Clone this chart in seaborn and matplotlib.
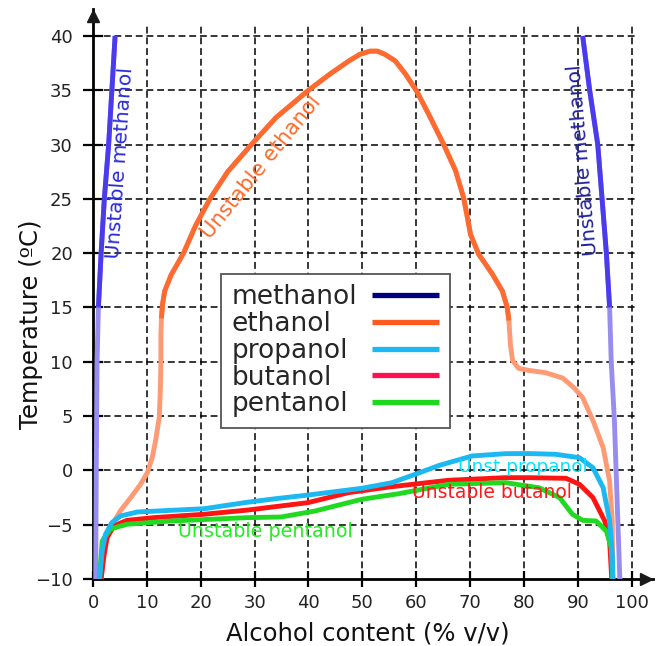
import matplotlib
import matplotlib.pyplot as plt
import seaborn as sns
from matplotlib.lines import Line2D

matplotlib.use("Agg")

# ── Data ─────────────────────────────────────────────────────────────────────

X_TICKS = [0, 10, 20, 30, 40, 50, 60, 70, 80, 90, 100]
Y_TICKS = [-10, -5, 0, 5, 10, 15, 20, 25, 30, 35, 40]

# methanol: two separate boundaries (low and high alcohol content)
meth_left_x = [0.5, 0.55, 0.6, 0.75, 1.0, 1.5, 2.1, 2.9, 3.5, 4.1]
meth_left_y = [-10, -5, 0, 10, 15, 20, 25, 30, 35, 40]
meth_right_x = [97.8, 97.1, 96.8, 96.2, 95.9, 95.3, 94.5, 93.7, 92.2, 90.9]
meth_right_y = [-10, 0, 4.5, 10, 15, 20, 25, 30, 35, 40]

eth_x = [1.5, 2.0, 2.8, 3.9, 5.1, 7.0, 8.8, 10.1, 11.0, 11.6, 12.3, 12.5, 12.6,
         12.6, 12.7, 12.9, 13.3, 14.5, 16.8, 19.0, 21.7, 25.0, 29.4, 34.0, 40.0,
         44.0, 47.5, 49.5, 51.4, 52.8, 54.2, 56.1, 58.0, 60.1, 62.3, 65.1, 67.3,
         68.8, 70.1, 71.6, 74.1, 76.0, 76.9, 77.2, 77.5, 77.9, 79.0, 81.0, 84.0,
         87.2, 89.3, 90.9, 92.8, 94.7, 95.9, 96.4, 96.5]
eth_y = [-10, -7.5, -5.8, -4.7, -3.7, -2.5, -1.3, -0.2, 1.2, 2.7, 4.9, 7.5, 10,
         12.5, 14.0, 15.3, 16.5, 18, 20, 22.5, 25, 27.5, 30, 32.5, 35,
         36.5, 37.7, 38.3, 38.6, 38.6, 38.3, 37.7, 36.5, 34.9, 32.8, 30, 27.6,
         25.1, 21.7, 19.9, 18.1, 16.5, 15, 13.8, 11.5, 10.1, 9.4, 9.2, 9.0,
         8.5, 7.6, 6.7, 4.6, 2.1, -1.0, -4.7, -10]

prop_x = [1.2, 1.5, 1.7, 2.3, 3.5, 5.1, 8.2, 14.4, 20.6, 28.7, 34.0, 39.9, 49.9,
          55.5, 59.8, 64.2, 70.4, 76.6, 81.0, 85.9, 90.3, 92.8, 94.7, 95.9, 96.4,
          96.5]
prop_y = [-10, -8.5, -7.4, -5.9, -4.8, -4.2, -3.83, -3.68, -3.53, -2.93, -2.6,
          -2.27, -1.65, -1.13, -0.36, 0.45, 1.33, 1.54, 1.55, 1.48, 1.17, 0.25,
          -1.59, -4.66, -7.7, -10]

but_x = [1.5, 2.0, 2.6, 3.9, 6.3, 11.3, 20.6, 28.7, 39.9, 47.4, 54.9, 66.0, 76.6,
         81.0, 87.8, 90.3, 92.8, 95.0, 95.9, 96.3]
but_y = [-10, -8.0, -6.2, -5.1, -4.6, -4.35, -4.04, -3.65, -2.97, -2.05, -1.53,
         -0.91, -0.67, -0.67, -0.73, -1.28, -2.5, -4.66, -6.5, -10]

pent_x = [1.2, 1.4, 1.7, 3.2, 6.3, 14.4, 28.7, 34.9, 41.2, 49.9, 56.7, 66.0,
          76.6, 82.8, 86.6, 89.0, 90.9, 93.4, 95.3, 96.2, 96.5]
pent_y = [-10, -8.5, -6.5, -5.4, -4.96, -4.66, -4.35, -4.29, -3.74, -2.66,
          -2.15, -1.28, -1.13, -1.6, -2.5, -4.04, -4.6, -4.66, -5.6, -7.1, -10]

LEGEND_NAMES = ["methanol", "ethanol", "propanol", "butanol", "pentanol"]
LEGEND_COLORS = ["#00007f", "#ff5a1f", "#1ab8f5", "#ff1050", "#1ed81e"]

# ── Style ─────────────────────────────────────────────────────────────────────

sns.set_theme(style="white")
plt.rcParams["font.family"] = ["DejaVu Sans"]

LW = 3.5
FADED_BLUE = "#978cf0"
STRONG_BLUE = "#4a3cec"
FADED_ORANGE = "#ff9a74"
STRONG_ORANGE = "#ff6a30"


def curve(ax, x, y, color, zorder=3):
    sns.lineplot(x=x, y=y, sort=False, estimator=None, color=color, lw=LW,
                 ax=ax, legend=False, zorder=zorder,
                 solid_capstyle="butt", solid_joinstyle="round")


fig = plt.figure(figsize=(6.56, 6.46), dpi=100)
ax = fig.add_axes([0.1418, 0.1037, 0.854, 0.8827])
ax.set_xlim(0, 104)
ax.set_ylim(-10, 42.5)

# dashed grid, limited to the data box
ax.hlines(Y_TICKS[1:], 0, 101, colors="black", lw=1.1,
          linestyles=(0, (4.5, 2.5)), zorder=1)
ax.vlines(X_TICKS[1:], -10, 41, colors="black", lw=1.1,
          linestyles=(0, (4.5, 2.5)), zorder=1)

# methanol (faded lower part, stronger upper part)
curve(ax, meth_left_x, meth_left_y, FADED_BLUE)
curve(ax, meth_left_x[4:], meth_left_y[4:], STRONG_BLUE)
curve(ax, meth_right_x, meth_right_y, FADED_BLUE)
curve(ax, meth_right_x[4:], meth_right_y[4:], STRONG_BLUE)

# ethanol (faded tails, stronger central dome)
curve(ax, eth_x, eth_y, FADED_ORANGE)
curve(ax, eth_x[14:44], eth_y[14:44], STRONG_ORANGE)

curve(ax, but_x, but_y, "#ff1414", zorder=4)
curve(ax, pent_x, pent_y, "#22d922", zorder=5)
curve(ax, prop_x, prop_y, "#1cb8f2", zorder=6)

# annotations
ax.text(5.0, 28.3, "Unstable methanol", color="#2a2ad8", fontsize=14.5,
        rotation=86, ha="center", va="center", zorder=7)
ax.text(90.9, 28.6, "Unstable methanol", color="#20209a", fontsize=14.5,
        rotation=95, ha="center", va="center", zorder=7)
ax.text(31.2, 27.9, "Unstable ethanol", color="#ff6a2a", fontsize=15,
        rotation=51, ha="center", va="center", zorder=7)
ax.text(79.7, 0.3, "Unst propanol", color="#00e5ff", fontsize=13.3,
        ha="center", va="center", zorder=7)
ax.text(74.1, -2.05, "Unstable butanol", color="#ff1a1a", fontsize=13.5,
        ha="center", va="center", zorder=7)
ax.text(32.0, -5.67, "Unstable pentanol", color="#22ee22", fontsize=13.8,
        ha="center", va="center", zorder=7)

# axes with arrow heads
for side in ["top", "right"]:
    ax.spines[side].set_visible(False)
for side in ["left", "bottom"]:
    ax.spines[side].set_linewidth(2)
    ax.spines[side].set_color("black")
ax.plot(0.987, 0, ">k", ms=9, transform=ax.transAxes, clip_on=False, zorder=9)
ax.plot(0, 0.987, "^k", ms=9, transform=ax.transAxes, clip_on=False, zorder=9)

ax.set_xticks(X_TICKS)
ax.set_yticks(Y_TICKS)
ax.tick_params(axis="y", direction="inout", length=15, width=1.6, pad=7,
               labelsize=13, left=True, colors="black", labelcolor="#222222")
ax.tick_params(axis="x", direction="inout", length=11, width=1.6, pad=5,
               labelsize=13, bottom=True, colors="black", labelcolor="#222222")

ax.set_xlabel("Alcohol content (% v/v)", fontsize=17.5, color="#111111")
ax.set_ylabel("Temperature (ºC)", fontsize=17.5, color="#111111")
ax.xaxis.set_label_coords(0.49, -0.074)
ax.yaxis.set_label_coords(-0.09, 0.4465)

# legend: text on the left, line sample on the right
handles = [Line2D([], [], color=c, lw=3.8, solid_capstyle="butt")
           for c in LEGEND_COLORS]
leg = ax.legend(handles, LEGEND_NAMES, loc="upper left",
                bbox_to_anchor=(0.229, 0.5355), borderaxespad=0,
                markerfirst=False, fontsize=19, labelspacing=0.03,
                handlelength=2.55, handletextpad=0.55, borderpad=0.4,
                fancybox=False, framealpha=1, edgecolor="#555555")
leg.get_frame().set_linewidth(1.3)
leg.set_zorder(8)

# pad each row so the texts line up on the left and the samples on the right
fig.canvas.draw()
renderer = fig.canvas.get_renderer()
widths = [t.get_window_extent(renderer).width for t in leg.get_texts()]
rows = leg._legend_handle_box.get_children()[0].get_children()
for row, w in zip(rows, widths):
    row.sep += (max(widths) - w) * 72 / fig.dpi

fig.savefig("out.png", dpi=100)
plt.close(fig)
